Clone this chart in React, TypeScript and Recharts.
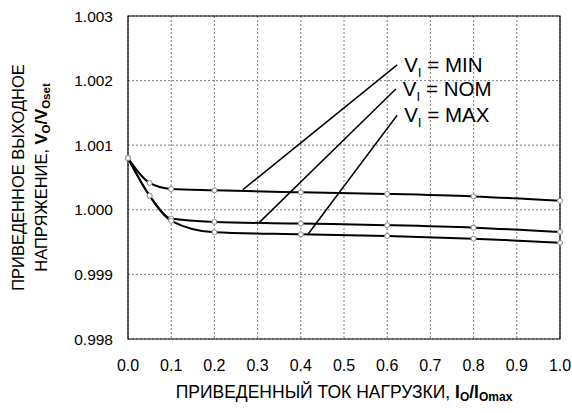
import React from 'react';
import { LineChart, Line, XAxis, YAxis, CartesianGrid, ReferenceArea, ReferenceLine } from 'recharts';

// нормированный ток нагрузки (точки измерения)
const loadCurrent = [0, 0.05, 0.1, 0.2, 0.4, 0.6, 0.8, 1.0];
// нормированное выходное напряжение при разных VI
const vinMin = [1.0008, 1.000416, 1.000322, 1.000301, 1.00027, 1.000245, 1.000207, 1.00014];
const vinNom = [1.0008, 1.000218, 0.999865, 0.999813, 0.999787, 0.999762, 0.999724, 0.999657];
const vinMax = [1.0008, 1.000218, 0.999829, 0.999652, 0.999621, 0.999595, 0.999553, 0.999491];

const xTicks = [0, 0.1, 0.2, 0.3, 0.4, 0.5, 0.6, 0.7, 0.8, 0.9, 1.0];
const yTicks = [0.998, 0.999, 1.0, 1.001, 1.002, 1.003];

// выноски: точка на кривой -> подпись
const legendNames = ['MIN', 'NOM', 'MAX'];
const leaderStart = [[0.266, 1.000312], [0.303, 0.999798], [0.417, 0.999626]];
const leaderEnd = [[0.623, 1.002243], [0.62, 1.001869], [0.623, 1.001464]];

const data = loadCurrent.map((x, i) => ({ x, min: vinMin[i], nom: vinNom[i], max: vinMax[i] }));

const FONT = '"Liberation Sans", Arial, sans-serif';

const dotStyle = { r: 2.5, fill: '#fff', stroke: '#8a8a8a', strokeWidth: 1 };

const legendLabel = (name: string) => (props: any) => {
  const vb = props.viewBox || {};
  const x = vb.x + vb.width + 7;
  const y = vb.y + 7;
  return (
    <text x={x} y={y} fontFamily={FONT} fontSize={20.5} fill="#000">
      V<tspan fontSize={13.5} dy={5}>I</tspan>
      <tspan dy={-5}> = {name}</tspan>
    </text>
  );
};

const yAxisLabel = (props: any) => {
  const vb = props.viewBox;
  const cy = vb.y + vb.height / 2;
  return (
    <g fontFamily={FONT} fontSize={16.5} fill="#000">
      <text transform={`translate(24, ${cy}) rotate(-90)`} textAnchor="middle">
        ПРИВЕДЕННОЕ ВЫХОДНОЕ
      </text>
      <text transform={`translate(47, ${cy}) rotate(-90)`} textAnchor="middle">
        НАПРЯЖЕНИЕ,{' '}
        <tspan fontWeight="bold">V</tspan>
        <tspan fontWeight="bold" fontSize={11.5} dy={3}>O</tspan>
        <tspan fontWeight="bold" dy={-3}>/V</tspan>
        <tspan fontWeight="bold" fontSize={11.5} dy={3}>Oset</tspan>
      </text>
    </g>
  );
};

const xAxisLabel = (props: any) => {
  const vb = props.viewBox;
  return (
    <text x={vb.x + vb.width / 2} y={vb.y + 59} textAnchor="middle" fontFamily={FONT} fontSize={17.5} fill="#000">
      ПРИВЕДЕННЫЙ ТОК НАГРУЗКИ,{' '}
      <tspan fontWeight="bold">I</tspan>
      <tspan fontWeight="bold" fontSize={12} dy={3}>O</tspan>
      <tspan fontWeight="bold" dy={-3}>/I</tspan>
      <tspan fontWeight="bold" fontSize={12} dy={3}>Omax</tspan>
    </text>
  );
};

export default function App() {
  return (
    <div style={{ position: 'absolute', left: 0, top: 0, background: '#fff' }}>
      <LineChart width={572} height={413} data={data} margin={{ top: 16, right: 12, left: 0, bottom: 0 }}>
        <CartesianGrid stroke="#808080" strokeDasharray="2 2" strokeWidth={1} />
        <XAxis
          dataKey="x"
          type="number"
          domain={[0, 1]}
          ticks={xTicks}
          tickFormatter={(v: number) => v.toFixed(1)}
          tick={{ fill: '#000', fontSize: 16, fontFamily: FONT }}
          tickSize={0}
          tickMargin={21}
          axisLine={false}
          height={74}
          label={xAxisLabel}
        />
        <YAxis
          type="number"
          domain={[0.998, 1.003]}
          ticks={yTicks}
          tickFormatter={(v: number) => v.toFixed(3)}
          tick={{ fill: '#000', fontSize: 15.5, fontFamily: FONT }}
          tickSize={0}
          tickMargin={15}
          axisLine={false}
          width={128}
          label={yAxisLabel}
        />
        <ReferenceArea x1={0} x2={1} y1={0.998} y2={1.003} fill="none" stroke="#000" strokeWidth={1.2} fillOpacity={0} />
        {legendNames.map((name, i) => (
          <ReferenceLine
            key={name}
            segment={[
              { x: leaderStart[i][0], y: leaderStart[i][1] },
              { x: leaderEnd[i][0], y: leaderEnd[i][1] },
            ]}
            stroke="#000"
            strokeWidth={1.5}
            ifOverflow="visible"
            label={legendLabel(name)}
          />
        ))}
        <Line type="monotone" dataKey="min" stroke="#000" strokeWidth={2} dot={dotStyle} isAnimationActive={false} />
        <Line type="monotone" dataKey="nom" stroke="#000" strokeWidth={2} dot={dotStyle} isAnimationActive={false} />
        <Line type="monotone" dataKey="max" stroke="#000" strokeWidth={2} dot={dotStyle} isAnimationActive={false} />
      </LineChart>
    </div>
  );
}
